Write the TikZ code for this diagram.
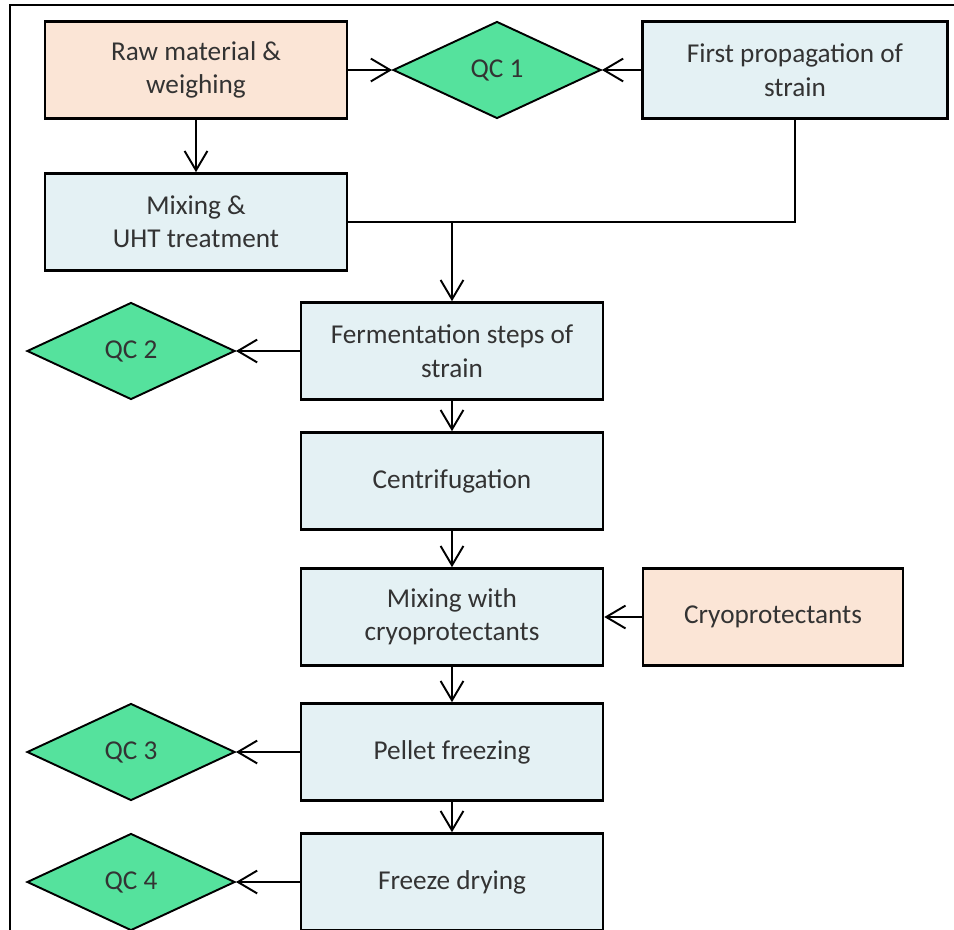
\documentclass[tikz,border=0pt]{standalone}
\usepackage{fontspec}
\setmainfont{Carlito}
\usetikzlibrary{shapes.geometric,arrows.meta}
\definecolor{rawpeach}{HTML}{FBE5D6}
\definecolor{steplight}{HTML}{E4F1F4}
\definecolor{qcgreen}{HTML}{55E29D}
\newcommand{\boxw}{6.04cm}
\newcommand{\boxh}{1.94cm}
\newcommand{\qcw}{4.16cm}

\begin{document}
\begin{tikzpicture}[x=0.02cm, y=-0.02cm, >={Straight Barb[length=11pt,width=13pt]},
    stepbox/.style={draw, line width=1.5pt, fill=steplight, minimum width=\boxw, minimum height=\boxh,
        align=center, text=black!80, font=\fontsize{15.5}{19}\selectfont},
    rawbox/.style={stepbox, fill=rawpeach},
    qcbox/.style={diamond, draw, line width=1.1pt, fill=qcgreen, minimum width=\qcw, minimum height=\boxh,
        inner sep=0pt, text=black!80, font=\fontsize{15.5}{19}\selectfont},
    link/.style={->, line width=1.1pt}]
        \useasboundingbox (0, 0) rectangle (954, 930);
        \clip (0, 0) rectangle (954, 930);

        % frame
        \draw[line width=0.8pt] (954, 5) -- (10, 5) -- (10, 930);

        % top row
        \node[rawbox] (raw) at (196, 70) {Raw material \&\\weighing};
        \node[qcbox] (qc1) at (497, 70) {QC 1};
        \node[stepbox, minimum width=6.1cm] (first) at (795, 70) {First propagation of\\strain};
        \node[stepbox] (mix) at (196, 222) {Mixing \&\\UHT treatment};

        % main line
        \node[stepbox] (ferm) at (452, 351) {Fermentation steps of\\strain};
        \node[stepbox] (centri) at (452, 481) {Centrifugation};
        \node[stepbox] (cryomix) at (452, 617) {Mixing with\\cryoprotectants};
        \node[rawbox, minimum width=5.2cm] (cryo) at (773, 617) {Cryoprotectants};
        \node[stepbox] (pellet) at (452, 752) {Pellet freezing};
        \node[stepbox] (dry) at (452, 882) {Freeze drying};

        % quality checks
        \node[qcbox] (qc2) at (131, 351) {QC 2};
        \node[qcbox] (qc3) at (131, 752) {QC 3};
        \node[qcbox] (qc4) at (131, 882) {QC 4};

        % arrows
        \draw[link] (raw) -- (qc1);
        \draw[link] (first) -- (qc1);
        \draw[link] (raw) -- (mix);
        \coordinate (join) at (ferm.north |- mix.east);
        \draw[line width=1.1pt] (first.south) |- (mix.east);
        \draw[link] (join) -- (ferm);
        \draw[link] (ferm) -- (qc2);
        \draw[link] (ferm) -- (centri);
        \draw[link] (centri) -- (cryomix);
        \draw[link] (cryo) -- (cryomix);
        \draw[link] (cryomix) -- (pellet);
        \draw[link] (pellet) -- (qc3);
        \draw[link] (pellet) -- (dry);
        \draw[link] (dry) -- (qc4);
    \end{tikzpicture}
\end{document}
